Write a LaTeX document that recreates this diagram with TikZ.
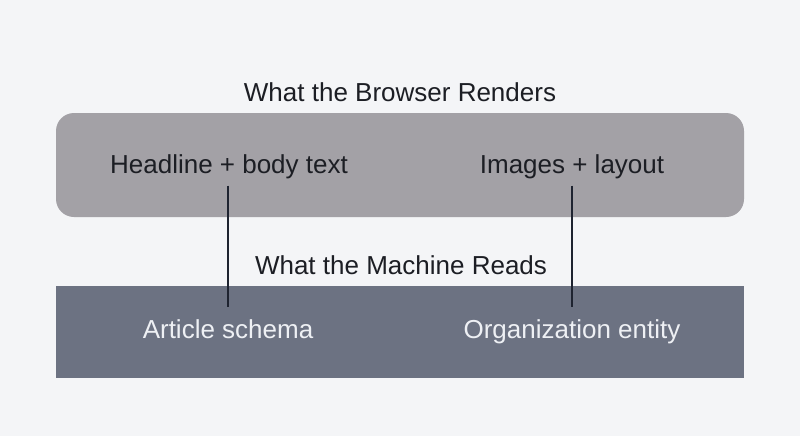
\documentclass[tikz,border=0pt]{standalone}
\usepackage{fontspec}
\setmainfont{Liberation Sans}
\usetikzlibrary{positioning}
\definecolor{bgpage}{HTML}{F4F5F7}
\definecolor{browsergray}{HTML}{A3A1A6}
\definecolor{machineslate}{HTML}{6C7282}
\definecolor{inkdark}{HTML}{1C1E24}
\definecolor{inklight}{HTML}{EEF0F4}
\definecolor{linkdark}{HTML}{1E2330}

\begin{document}
\begin{tikzpicture}[x=1pt, y=-1pt]
			\tikzstyle{Panel}	= [draw=none, minimum width=688pt, inner sep=0pt]
			\tikzstyle{Browser}	= [Panel, fill=browsergray, minimum height=104pt, rounded corners=18pt]
			\tikzstyle{Machine}	= [Panel, fill=machineslate, minimum height=92pt]
			\tikzstyle{Heading}	= [anchor=base, inner sep=0pt, text=inkdark, font=\fontsize{26}{30}\selectfont]
			\tikzstyle{DarkLabel}	= [Heading]
			\tikzstyle{LightLabel}	= [Heading, text=inklight]
			\tikzstyle{Link}	= [line width=2pt, linkdark, shorten <=7pt, shorten >=12pt]
			
			\fill [bgpage] (0, 0) rectangle (800, 436);
			\useasboundingbox (0, 0) rectangle (800, 436);
			
			\node (browser) at (400, 165) [Browser] {};
			\node (machine) at (400, 332) [Machine] {};
			
			\node (title1) at (400, 101) [Heading] {What the Browser Renders};
			\node (title2) at (401, 274) [Heading] {What the Machine Reads};
			
			\node (headline) at (229, 173) [DarkLabel] {Headline + body text};
			\node (images) at (572, 173) [DarkLabel] {Images + layout};
			\node (article) at (228, 338) [LightLabel] {Article schema};
			\node (org) at (572, 338) [LightLabel] {Organization entity};
			
			\draw [-] (headline.south -| article) to (article.north) [Link];
			\draw [-] (images.south) to (org.north) [Link];
		\end{tikzpicture}
\end{document}
